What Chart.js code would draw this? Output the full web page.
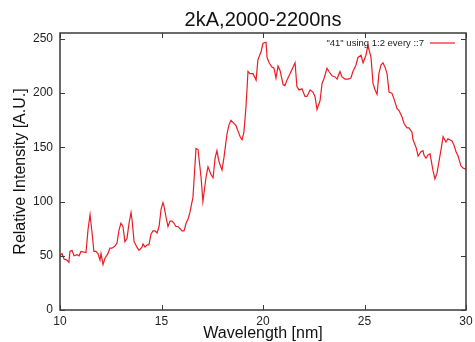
<!DOCTYPE html>
<html>
<head>
<meta charset="utf-8">
<title>2kA,2000-2200ns</title>
<script src="https://cdn.jsdelivr.net/npm/chart.js@4.4.1/dist/chart.umd.min.js"></script>
<style>
  html, body { margin: 0; padding: 0; background: #fff; }
  #wrap { width: 475px; height: 342px; }
</style>
</head>
<body>
<div id="wrap"><canvas id="toolChart" width="475" height="342"></canvas></div>
<script>
/* Spectrum: wavelength [nm] vs relative intensity */
const wavelength = [10.00,10.10,10.20,10.34,10.44,10.49,10.59,10.69,10.84,10.94,11.03,11.28,11.38,11.48,11.58,11.67,11.77,11.87,11.97,12.02,12.12,12.22,12.36,12.46,12.56,12.71,12.81,12.91,13.00,13.10,
  13.20,13.30,13.40,13.50,13.55,13.65,13.79,13.89,14.04,14.09,14.19,14.29,14.38,14.48,14.58,14.68,14.78,14.88,14.98,15.07,15.12,15.22,15.32,15.42,15.52,15.62,15.71,15.81,15.91,16.01,16.11,16.21,16.31,16.40,
  16.55,16.70,16.80,16.95,17.04,17.19,17.29,17.44,17.54,17.64,17.73,17.83,17.98,18.08,18.23,18.33,18.42,18.52,18.67,18.77,18.87,18.97,19.06,19.16,19.21,
  19.26,19.36,19.51,19.66,19.75,19.90,20.00,20.15,20.20,20.30,20.44,20.54,20.64,20.74,20.84,20.99,21.08,21.18,21.33,21.48,21.58,21.67,21.77,
  21.92,22.07,22.17,22.32,22.46,22.56,22.66,22.81,22.91,23.00,23.15,23.25,23.40,23.55,23.65,23.79,23.89,24.04,24.19,24.33,24.43,24.58,24.68,24.83,24.93,25.07,25.17,
  25.32,25.42,25.52,25.62,25.71,25.81,25.91,26.01,26.11,26.21,26.35,26.45,26.60,26.70,26.85,26.95,27.09,27.19,27.34,27.39,27.54,27.64,27.78,27.88,27.93,28.03,28.13,28.23,28.37,28.47,28.57,28.67,28.77,28.87,29.01,29.11,29.31,29.41,29.51,29.61,29.75,29.85,30.00];

const intensity = [50,52,47,46,44,54,55,50,51,50,54,53,74,88,71,54,54,52,46,52,42,48,52,57,57,59,62,74,80,77,
  63,66,80,90,83,63,58,55,58,61,58,60,60,70,73,73,71,77,93,99,96,86,77,82,82,80,77,77,75,73,73,80,84,90,
  104,149,148,122,100,122,132,125,122,140,147,137,129,141,163,171,175,173,170,165,160,157,164,187,203,
  220,218,218,212,231,238,246,247,233,228,224,223,214,225,221,208,207,212,218,224,228,206,203,
  204,197,197,203,201,197,185,193,209,213,223,220,216,215,213,220,215,213,213,214,220,226,233,235,228,235,244,
  233,209,203,199,218,226,228,224,218,201,200,195,186,184,178,172,168,168,164,157,150,142,146,147,143,140,143,144,129,121,126,137,148,160,155,158,156,152,146,142,133,131,130];

const xTicks = [10, 15, 20, 25, 30];
const yTicks = [0, 50, 100, 150, 200, 250];

const seriesLabel = '"41" using 1:2 every ::7';
const FONT = "'Liberation Sans', Arial, Helvetica, sans-serif";
const LINE_RED = 'rgb(235,28,36)';

// gnuplot style: border on all four sides, ticks pointing inward, key at top right
const gnuplotFrame = {
  id: 'gnuplotFrame',
  afterDraw(chart) {
    const { ctx, chartArea: a, scales } = chart;
    const tick = 5;
    ctx.save();
    ctx.strokeStyle = '#3a3a3a';
    ctx.lineWidth = 1;
    ctx.beginPath();
    yTicks.forEach(v => {
      const y = Math.round(scales.y.getPixelForValue(v)) + 0.5;
      ctx.moveTo(a.left, y); ctx.lineTo(a.left + tick, y);
      ctx.moveTo(a.right, y); ctx.lineTo(a.right - tick, y);
    });
    xTicks.forEach(v => {
      const x = Math.round(scales.x.getPixelForValue(v)) + 0.5;
      ctx.moveTo(x, a.bottom); ctx.lineTo(x, a.bottom - tick);
      ctx.moveTo(x, a.top); ctx.lineTo(x, a.top + tick);
    });
    ctx.stroke();

    ctx.lineWidth = 1.5;
    ctx.strokeRect(a.left, a.top, a.right - a.left, a.bottom - a.top);

    // key
    const ds = chart.data.datasets[0];
    const ky = a.top + 10;
    ctx.fillStyle = '#222';
    ctx.font = '9.5px ' + FONT;
    ctx.textAlign = 'right';
    ctx.textBaseline = 'middle';
    ctx.fillText(ds.label, a.right - 42, ky);
    ctx.strokeStyle = ds.borderColor;
    ctx.lineWidth = 1.2;
    ctx.beginPath();
    ctx.moveTo(a.right - 36, ky);
    ctx.lineTo(a.right - 11, ky);
    ctx.stroke();
    ctx.restore();
  }
};

function buildChart() {
  const ctx = document.getElementById('toolChart');
  const points = wavelength.map((w, i) => ({ x: w, y: intensity[i] }));

  return new Chart(ctx, {
    type: 'line',
    data: {
      datasets: [{
        label: seriesLabel,
        data: points,
        borderColor: LINE_RED,
        borderWidth: 1.2,
        pointRadius: 0,
        tension: 0,
        fill: false
      }]
    },
    options: {
      responsive: false,
      animation: false,
      layout: { padding: { left: 0, right: 9, top: 0, bottom: 0 } },
      plugins: {
        legend: { display: false },
        tooltip: { enabled: false },
        title: {
          display: true,
          fullSize: false,
          text: '2kA,2000-2200ns',
          color: '#111',
          font: { family: FONT, size: 20, weight: 'normal' },
          padding: { top: 8, bottom: 1 }
        }
      },
      scales: {
        x: {
          type: 'linear',
          min: 10,
          max: 30,
          grid: { display: false, drawTicks: false },
          border: { display: false },
          afterBuildTicks: s => { s.ticks = xTicks.map(v => ({ value: v })); },
          afterFit: s => { s.height = 32; s.paddingLeft = 0; s.paddingRight = 0; },
          ticks: { color: '#222', padding: 4, maxRotation: 0, font: { family: FONT, size: 12 } },
          title: {
            display: true,
            text: 'Wavelength [nm]',
            color: '#111',
            font: { family: FONT, size: 16 },
            padding: { top: 0, bottom: -1 }
          }
        },
        y: {
          min: 0,
          max: 255.5,
          grid: { display: false, drawTicks: false },
          border: { display: false },
          afterBuildTicks: s => { s.ticks = yTicks.map(v => ({ value: v })); },
          afterFit: s => { s.width = 60; },
          ticks: { color: '#222', padding: 7, font: { family: FONT, size: 12 } },
          title: {
            display: true,
            text: 'Relative Intensity [A.U.]',
            color: '#111',
            font: { family: FONT, size: 16 },
            padding: { top: 11, bottom: 0 }
          }
        }
      }
    },
    plugins: [gnuplotFrame]
  });
}

document.addEventListener('DOMContentLoaded', () => {
  buildChart();
});
</script>
</body>
</html>
